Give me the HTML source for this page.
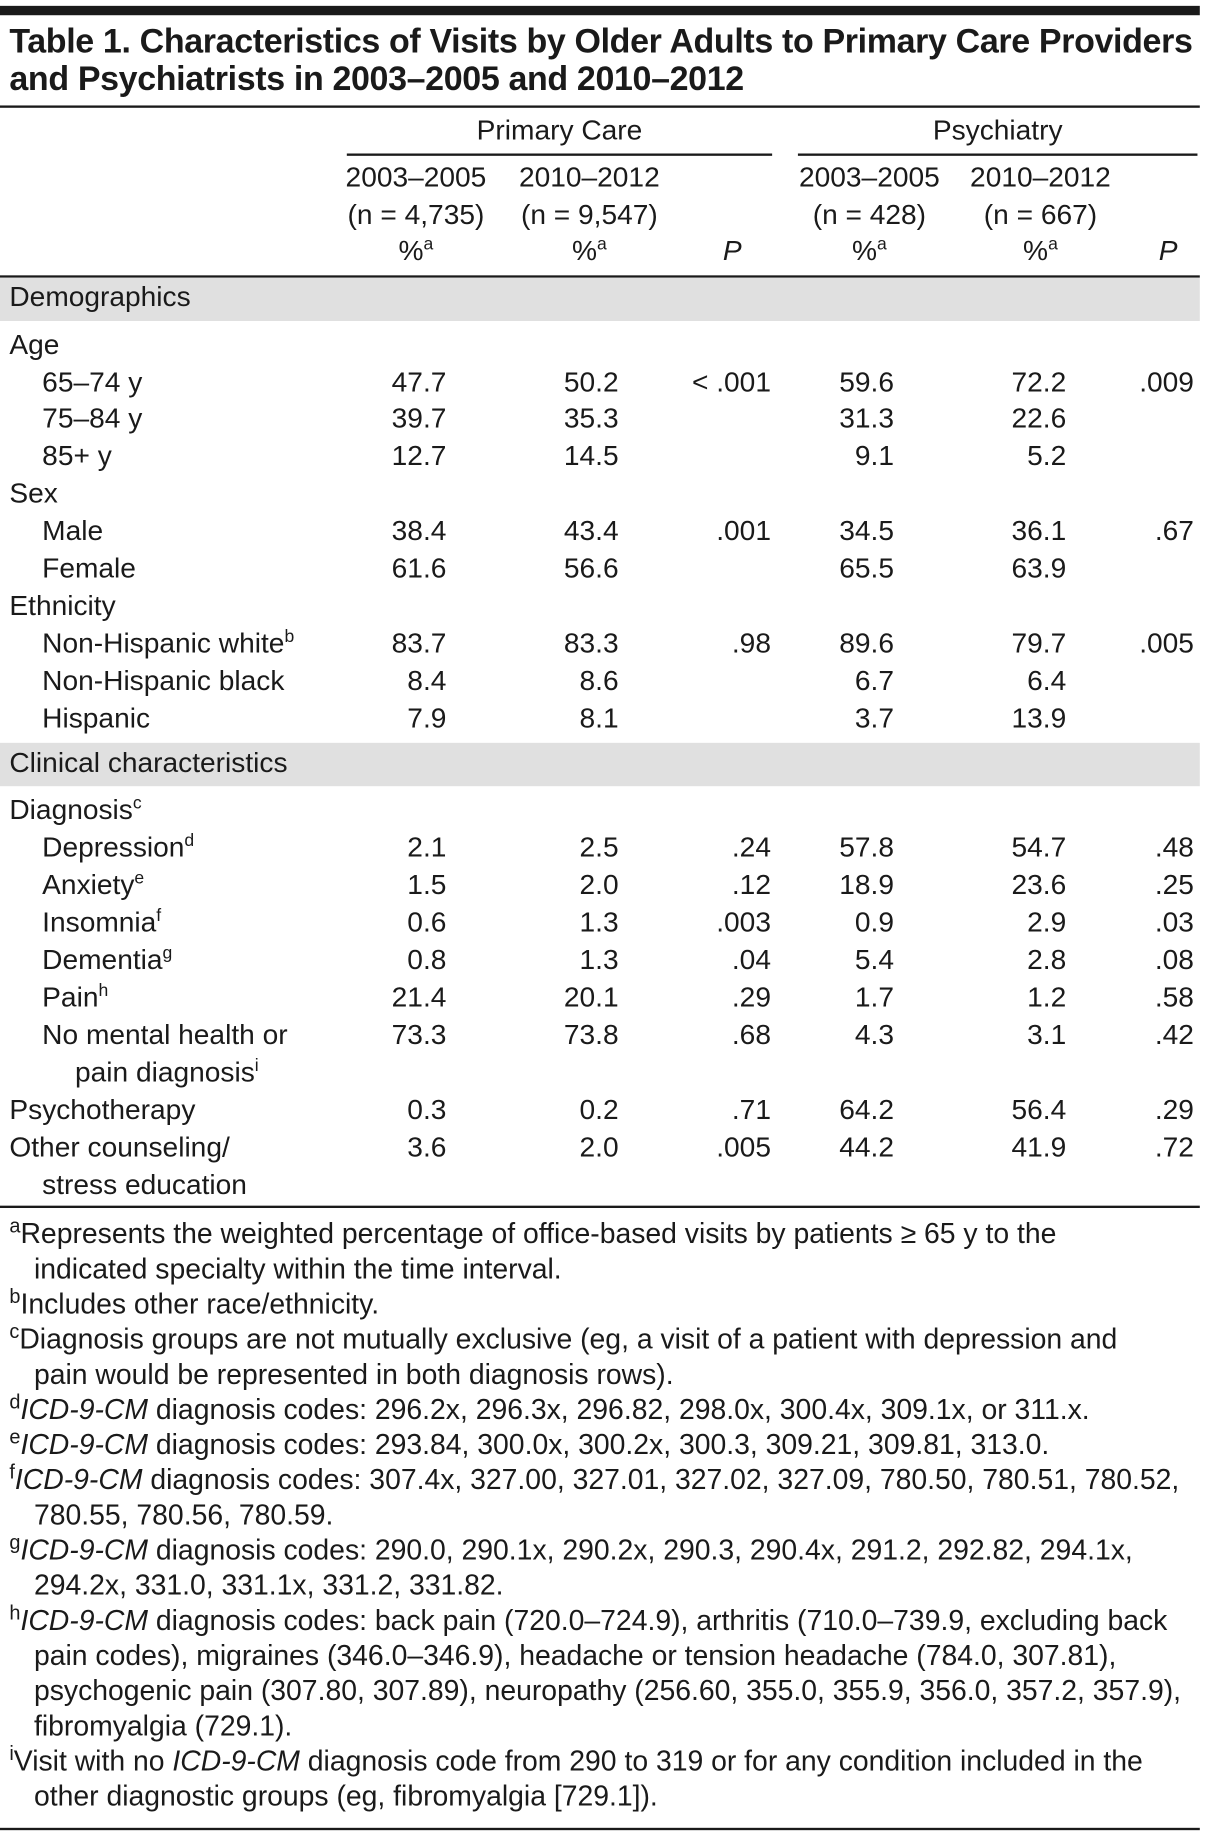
<!DOCTYPE html>
<html><head><meta charset="utf-8">
<style>
html,body{margin:0;padding:0;background:#fff;}
body{width:1208px;height:1838px;overflow:hidden;position:relative;}
#wrap{position:absolute;left:0;top:0;width:1031px;height:1568px;transform:scale(1.17168);transform-origin:0 0;
 font-family:"Liberation Sans Narrow","Liberation Sans",sans-serif;color:#1a1a1a;}
.t{position:absolute;white-space:nowrap;font-size:24px;line-height:32px;}
.r{text-align:right;}
.c{text-align:center;}
.rule{position:absolute;left:0;width:1024px;background:#1a1a1a;}
.band{position:absolute;left:0;width:1024px;background:#e0e0e0;}
sup{font-size:15px;line-height:0;vertical-align:9px;}
.fn{position:absolute;left:8px;font-size:24.2px;line-height:30px;white-space:nowrap;}
.fn sup{font-size:17px;}
.fn .in{padding-left:21px;}
</style></head><body>
<div id="wrap">
<div class="rule" style="top:5px;height:8px"></div>
<div class="t" style="left:8px;top:20px;font-size:29px;line-height:32px;font-weight:bold;letter-spacing:-0.3px">Table 1. Characteristics of Visits by Older Adults to Primary Care Providers<br>and Psychiatrists in 2003–2005 and 2010–2012</div>
<div class="rule" style="top:90px;height:2px"></div>
<div class="t c" style="left:296px;width:363px;top:96px">Primary Care</div>
<div class="rule" style="top:131px;height:1.5px;left:296px;width:363px"></div>
<div class="t c" style="left:681px;width:341px;top:96px">Psychiatry</div>
<div class="rule" style="top:131px;height:1.5px;left:681px;width:341px"></div>
<div id="hdr"></div>
<div class="rule" style="top:235px;height:2px"></div>
<div class="band" style="top:237px;height:37px"></div>
<div class="band" style="top:634px;height:37px"></div>
<div id="rows"></div>
<div class="rule" style="top:1029px;height:1.5px"></div>
<div id="fns" style="position:absolute;left:0;top:1039px">
<div class="fn" style="top:0px"><sup>a</sup>Represents the weighted percentage of office-based visits by patients ≥ 65 y to the</div>
<div class="fn" style="top:30px"><span class="in">indicated specialty within the time interval.</span></div>
<div class="fn" style="top:60px"><sup>b</sup>Includes other race/ethnicity.</div>
<div class="fn" style="top:90px"><sup>c</sup>Diagnosis groups are not mutually exclusive (eg, a visit of a patient with depression and</div>
<div class="fn" style="top:120px"><span class="in">pain would be represented in both diagnosis rows).</span></div>
<div class="fn" style="top:150px"><sup>d</sup><i>ICD-9-CM</i> diagnosis codes: 296.2x, 296.3x, 296.82, 298.0x, 300.4x, 309.1x, or 311.x.</div>
<div class="fn" style="top:180px"><sup>e</sup><i>ICD-9-CM</i> diagnosis codes: 293.84, 300.0x, 300.2x, 300.3, 309.21, 309.81, 313.0.</div>
<div class="fn" style="top:210px"><sup>f</sup><i>ICD-9-CM</i> diagnosis codes: 307.4x, 327.00, 327.01, 327.02, 327.09, 780.50, 780.51, 780.52,</div>
<div class="fn" style="top:240px"><span class="in">780.55, 780.56, 780.59.</span></div>
<div class="fn" style="top:270px"><sup>g</sup><i>ICD-9-CM</i> diagnosis codes: 290.0, 290.1x, 290.2x, 290.3, 290.4x, 291.2, 292.82, 294.1x,</div>
<div class="fn" style="top:300px"><span class="in">294.2x, 331.0, 331.1x, 331.2, 331.82.</span></div>
<div class="fn" style="top:330px"><sup>h</sup><i>ICD-9-CM</i> diagnosis codes: back pain (720.0–724.9), arthritis (710.0–739.9, excluding back</div>
<div class="fn" style="top:360px"><span class="in">pain codes), migraines (346.0–346.9), headache or tension headache (784.0, 307.81),</span></div>
<div class="fn" style="top:390px"><span class="in">psychogenic pain (307.80, 307.89), neuropathy (256.60, 355.0, 355.9, 356.0, 357.2, 357.9),</span></div>
<div class="fn" style="top:420px"><span class="in">fibromyalgia (729.1).</span></div>
<div class="fn" style="top:450px"><sup>i</sup>Visit with no <i>ICD-9-CM</i> diagnosis code from 290 to 319 or for any condition included in the</div>
<div class="fn" style="top:480px"><span class="in">other diagnostic groups (eg, fibromyalgia [729.1]).</span></div>
</div>
<div class="rule" style="top:1560px;height:1.5px"></div>
</div>
<script>
const colRight=[381,528,658,763,910,1019];
const hdrCenters=[355,503,625,742,888,997];
const hdrLines=[["2003–2005","2010–2012","","2003–2005","2010–2012",""],
["(n = 4,735)","(n = 9,547)","","(n = 428)","(n = 667)",""],
["%<sup>a</sup>","%<sup>a</sup>","<i>P</i>","%<sup>a</sup>","%<sup>a</sup>","<i>P</i>"]];
const hdrTops=[136,168,199];
const hdr=document.getElementById('hdr');
hdrLines.forEach((line,li)=>line.forEach((txt,ci)=>{if(!txt)return;
 const d=document.createElement('div');d.className='t c';
 d.style.left=(hdrCenters[ci]-80)+'px';d.style.width='160px';d.style.top=hdrTops[li]+'px';d.innerHTML=txt;
 
 
 hdr.appendChild(d);}));
const labels=[["Demographics",8],["Age",8],["65–74 y",36],["75–84 y",36],["85+ y",36],["Sex",8],["Male",36],["Female",36],["Ethnicity",8],["Non-Hispanic white<sup>b</sup>",36],["Non-Hispanic black",36],["Hispanic",36],
["Clinical characteristics",8],["Diagnosis<sup>c</sup>",8],["Depression<sup>d</sup>",36],["Anxiety<sup>e</sup>",36],["Insomnia<sup>f</sup>",36],["Dementia<sup>g</sup>",36],["Pain<sup>h</sup>",36],["No mental health or",36],["pain diagnosis<sup>i</sup>",64],["Psychotherapy",8],["Other counseling/",8],["stress education",36]];
const rowTops=[238,279,311,342,374,406,438,470,502,534,566,598,636,676,708,740,772,804,836,868,900,932,964,996];
const values=[[],[],["47.7","50.2","< .001","59.6","72.2",".009"],["39.7","35.3","","31.3","22.6",""],["12.7","14.5","","9.1","5.2",""],[],
["38.4","43.4",".001","34.5","36.1",".67"],["61.6","56.6","","65.5","63.9",""],[],["83.7","83.3",".98","89.6","79.7",".005"],["8.4","8.6","","6.7","6.4",""],["7.9","8.1","","3.7","13.9",""],
[],[],["2.1","2.5",".24","57.8","54.7",".48"],["1.5","2.0",".12","18.9","23.6",".25"],["0.6","1.3",".003","0.9","2.9",".03"],["0.8","1.3",".04","5.4","2.8",".08"],["21.4","20.1",".29","1.7","1.2",".58"],["73.3","73.8",".68","4.3","3.1",".42"],[],["0.3","0.2",".71","64.2","56.4",".29"],["3.6","2.0",".005","44.2","41.9",".72"],[]];
const rows=document.getElementById('rows');
labels.forEach((lab,i)=>{
 const d=document.createElement('div');d.className='t';d.style.left=lab[1]+'px';d.style.top=rowTops[i]+'px';d.innerHTML=lab[0];
 
 
 rows.appendChild(d);
 values[i].forEach((v,ci)=>{if(!v)return;
  const c=document.createElement('div');c.className='t r';c.style.left=(colRight[ci]-120)+'px';c.style.width='120px';c.style.top=rowTops[i]+'px';c.textContent=v;
  
  
  rows.appendChild(c);});
});
</script>
</body></html>
